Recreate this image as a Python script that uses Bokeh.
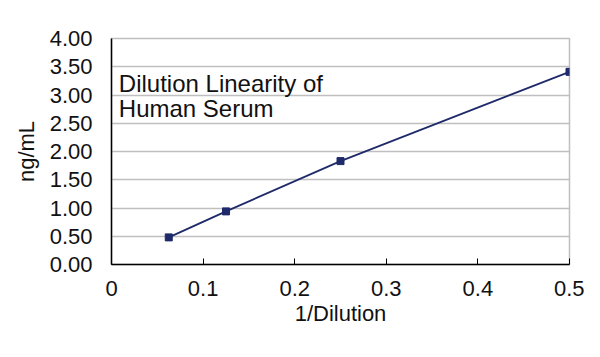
from bokeh.plotting import figure
from bokeh.models import Range1d, FixedTicker, Label
from bokeh.embed import file_html
from bokeh.resources import INLINE

# data
dilution_inv = [0.0625, 0.125, 0.25, 0.5]
conc = [0.48, 0.94, 1.83, 3.41]
x_ticks = [0, 0.1, 0.2, 0.3, 0.4, 0.5]
x_tick_labels = ["0", "0.1", "0.2", "0.3", "0.4", "0.5"]
y_ticks = [0, 0.5, 1.0, 1.5, 2.0, 2.5, 3.0, 3.5, 4.0]
title_lines = ["Dilution Linearity of", "Human Serum"]

FONT = "Liberation Sans"
NAVY = "#1F2A6B"

p = figure(frame_width=458, frame_height=226, output_backend="svg",
           toolbar_location=None, x_range=Range1d(0, 0.5), y_range=Range1d(0, 4))
p.min_border_left = 111
p.min_border_top = 38
p.min_border_right = 15
p.min_border_bottom = 77
p.background_fill_color = "white"
p.border_fill_color = "white"
p.outline_line_color = "#BFBFBF"
p.outline_line_width = 1.5

p.xgrid.visible = False
p.ygrid.grid_line_color = "#BFBFBF"
p.ygrid.grid_line_width = 1.5

p.xaxis.ticker = FixedTicker(ticks=x_ticks)
p.xaxis.major_label_overrides = {t: l for t, l in zip(x_ticks, x_tick_labels)}
p.yaxis.ticker = FixedTicker(ticks=y_ticks)
p.yaxis.major_label_overrides = {t: f"{t:.2f}" for t in y_ticks}

for ax in (p.xaxis, p.yaxis):
    ax.axis_line_color = "black"
    ax.axis_line_width = 1.5
    ax.major_tick_line_color = "black"
    ax.minor_tick_line_color = None
    ax.major_label_text_font = FONT
    ax.major_label_text_font_size = "22px"
    ax.major_label_text_color = "#111111"
    ax.axis_label_text_font = FONT
    ax.axis_label_text_font_size = "22px"
    ax.axis_label_text_font_style = "normal"
    ax.axis_label_text_color = "#111111"

p.xaxis.major_tick_in = 6
p.xaxis.major_tick_out = 0
p.xaxis.major_label_standoff = 16
p.xaxis.axis_label = "1/Dilution"
p.xaxis.axis_label_standoff = 2

p.yaxis.major_tick_in = 0
p.yaxis.major_tick_out = 0
p.yaxis.major_label_standoff = 19
p.yaxis.axis_label = "ng/mL"
p.yaxis.axis_label_standoff = 8

p.line(dilution_inv, conc, line_color=NAVY, line_width=1.8)
p.scatter(dilution_inv, conc, marker="square", size=7, fill_color=NAVY, line_color=NAVY)

p.add_layout(Label(x=0.008, y=3.21, text=title_lines[0], text_font=FONT,
                   text_font_size="24px", text_color="#111111", text_baseline="alphabetic"))
p.add_layout(Label(x=0.008, y=2.76, text=title_lines[1], text_font=FONT,
                   text_font_size="24px", text_color="#111111", text_baseline="alphabetic"))

open("out.html", "w").write(file_html(p, INLINE))
